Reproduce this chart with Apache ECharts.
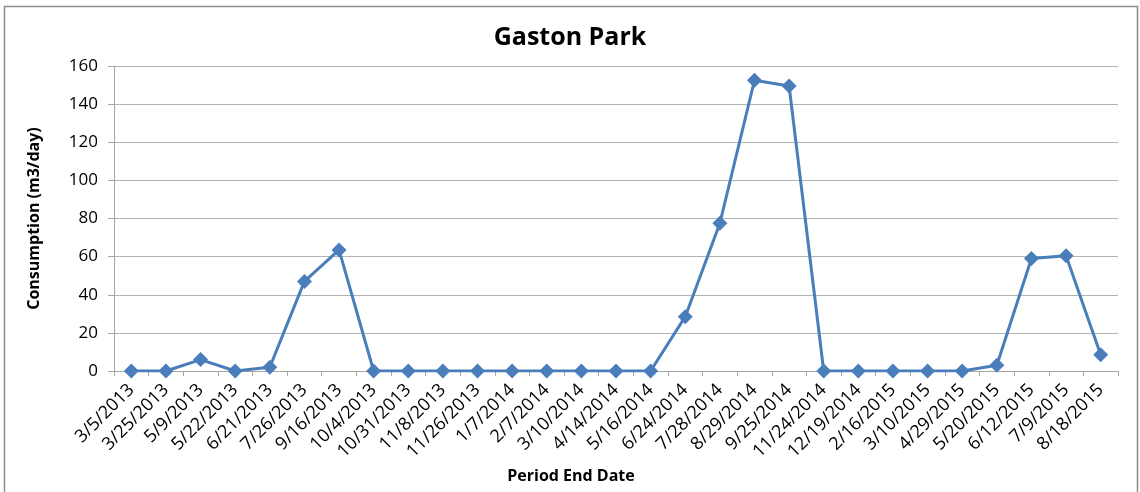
<!DOCTYPE html>
<html>
<head>
<meta charset="utf-8">
<script src="https://cdn.jsdelivr.net/npm/echarts@6/dist/echarts.min.js"></script>
<style>
  html, body { margin: 0; padding: 0; background: #fff; }
  #chart { width: 1140px; height: 492px; }
</style>
</head>
<body>
<div id="chart"></div>
<script>
// Billing period end dates
const periodEndDates = [
  '3/5/2013', '3/25/2013', '5/9/2013', '5/22/2013', '6/21/2013', '7/26/2013',
  '9/16/2013', '10/4/2013', '10/31/2013', '11/8/2013', '11/26/2013', '1/7/2014',
  '2/7/2014', '3/10/2014', '4/14/2014', '5/16/2014', '6/24/2014', '7/28/2014',
  '8/29/2014', '9/25/2014', '11/24/2014', '12/19/2014', '2/16/2015', '3/10/2015',
  '4/29/2015', '5/20/2015', '6/12/2015', '7/9/2015', '8/18/2015'
];

// Average daily consumption for each period (m3/day)
const consumption = [
  0, 0, 6, 0, 2, 47,
  63.5, 0, 0, 0, 0, 0,
  0, 0, 0, 0, 28.5, 77.5,
  152.5, 149.5, 0, 0, 0, 0,
  0, 3, 59, 60.5, 8.5
];

const yTicks = { min: 0, max: 160, interval: 20 };

const FONT = 'Open Sans';
const chart = echarts.init(document.getElementById('chart'), null, { renderer: 'canvas' });

chart.setOption({
  animation: false,
  backgroundColor: '#ffffff',
  title: {
    text: 'Gaston Park',
    left: 'center',
    top: 20,
    textStyle: { fontFamily: FONT, fontSize: 25, fontWeight: 'bold', color: '#000' }
  },
  graphic: [
    {
      // chart frame (open at the bottom edge)
      type: 'rect',
      shape: { x: 4.5, y: 6.5, width: 1133, height: 520 },
      style: { fill: 'none', stroke: '#8c8c8c', lineWidth: 1.5 },
      silent: true
    },
    {
      // x-axis title, centred on the whole chart
      type: 'text',
      x: 571,
      y: 476,
      style: {
        text: 'Period End Date',
        fontFamily: FONT,
        fontSize: 16,
        fontWeight: 'bold',
        fill: '#000',
        align: 'center',
        verticalAlign: 'middle'
      },
      silent: true
    }
  ],
  grid: { left: 114, right: 22, top: 66, bottom: 121 },
  xAxis: {
    type: 'category',
    data: periodEndDates,
    boundaryGap: true,
    axisLine: { lineStyle: { color: '#a6a6a6', width: 1 } },
    axisTick: { show: true, alignWithLabel: false, length: 5, lineStyle: { color: '#a6a6a6' } },
    axisLabel: {
      interval: 0,
      rotate: 45,
      margin: 16,
      fontFamily: FONT,
      fontSize: 18,
      color: '#000'
    },
    splitLine: { show: false }
  },
  yAxis: {
    type: 'value',
    min: yTicks.min,
    max: yTicks.max,
    interval: yTicks.interval,
    name: 'Consumption (m3/day)',
    nameLocation: 'middle',
    nameGap: 72,
    nameTextStyle: { fontFamily: FONT, fontSize: 16, fontWeight: 'bold', color: '#000' },
    axisLine: { show: true, lineStyle: { color: '#a6a6a6', width: 1 } },
    axisTick: { show: true, length: 6, lineStyle: { color: '#a6a6a6' } },
    axisLabel: { margin: 16, fontFamily: FONT, fontSize: 17, color: '#000' },
    splitLine: { show: true, lineStyle: { color: '#b3b3b3', width: 1 } }
  },
  series: [{
    type: 'line',
    data: consumption,
    symbol: 'diamond',
    symbolSize: 15,
    showSymbol: true,
    lineStyle: { color: '#4a7ebb', width: 3 },
    itemStyle: { color: '#4a7ebb' },
    z: 5
  }]
});
</script>
</body>
</html>
